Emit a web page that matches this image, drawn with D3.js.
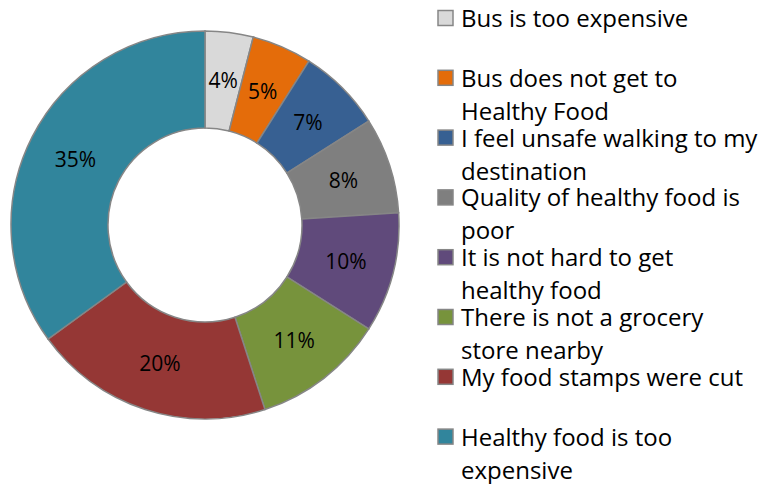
<!DOCTYPE html>
<html>
<head>
<meta charset="utf-8">
<script src="https://cdn.jsdelivr.net/npm/d3@7"></script>
<style>
  body { margin: 0; background: #fff; }
  text { font-family: "Open Sans", sans-serif; fill: #000; }
</style>
</head>
<body>
<div id="chart"></div>
<script>
// Chart data
var categories = [
  "Bus is too expensive",
  "Bus does not get to Healthy Food",
  "I feel unsafe walking to my destination",
  "Quality of healthy food is poor",
  "It is not hard to get healthy food",
  "There is not a grocery store nearby",
  "My food stamps were cut",
  "Healthy food is too expensive"
];
var values = [4, 5, 7, 8, 10, 11, 20, 35];
var colors = ["#d9d9d9", "#e46c0a", "#376092", "#7f7f7f", "#604a7b", "#77933c", "#953735", "#31859c"];
// how the legend text wraps in the original
var legendLines = [
  ["Bus is too expensive"],
  ["Bus does not get to", "Healthy Food"],
  ["I feel unsafe walking to my", "destination"],
  ["Quality of healthy food is", "poor"],
  ["It is not hard to get", "healthy food"],
  ["There is not a grocery", "store nearby"],
  ["My food stamps were cut"],
  ["Healthy food is too", "expensive"]
];

function drawChart() {
  var width = 766;
  var height = 484;
  var cx = 205, cy = 225;
  var outerR = 194, innerR = 97;

  var svg = d3.select("#chart")
    .append("svg")
    .attr("width", width)
    .attr("height", height);

  var data = values.map(function(v, i) {
    return { name: categories[i], value: v, color: colors[i] };
  });

  var pie = d3.pie()
    .value(function(d) { return d.value; })
    .sort(null);

  var arc = d3.arc()
    .innerRadius(innerR)
    .outerRadius(outerR);

  var g = svg.append("g")
    .attr("transform", "translate(" + cx + "," + cy + ")");

  var arcs = pie(data);

  g.selectAll("path")
    .data(arcs)
    .enter()
    .append("path")
    .attr("d", arc)
    .attr("fill", function(d) { return d.data.color; })
    .attr("stroke", "#868686")
    .attr("stroke-width", 1.5);

  g.selectAll("text.pct")
    .data(arcs)
    .enter()
    .append("text")
    .attr("class", "pct")
    .attr("transform", function(d) { return "translate(" + arc.centroid(d) + ")"; })
    .attr("text-anchor", "middle")
    .attr("dy", "0.36em")
    .style("font-size", "21px")
    .text(function(d) { return d.data.value + "%"; });

  // legend
  var legend = svg.append("g");
  var rows = legend.selectAll("g")
    .data(data)
    .enter()
    .append("g")
    .attr("transform", function(d, i) { return "translate(0," + (27 + i * 59.8) + ")"; });

  rows.append("rect")
    .attr("x", 438)
    .attr("y", -16.5)
    .attr("width", 15)
    .attr("height", 15)
    .attr("fill", function(d) { return d.color; })
    .attr("stroke", "#868686")
    .attr("stroke-width", 1.5);

  rows.append("text")
    .attr("x", 461)
    .style("font-size", "24px")
    .each(function(d, i) {
      var t = d3.select(this);
      legendLines[i].forEach(function(line, j) {
        t.append("tspan")
          .attr("x", 461)
          .attr("y", j * 33)
          .text(line);
      });
    });
}

drawChart();
</script>
</body>
</html>
